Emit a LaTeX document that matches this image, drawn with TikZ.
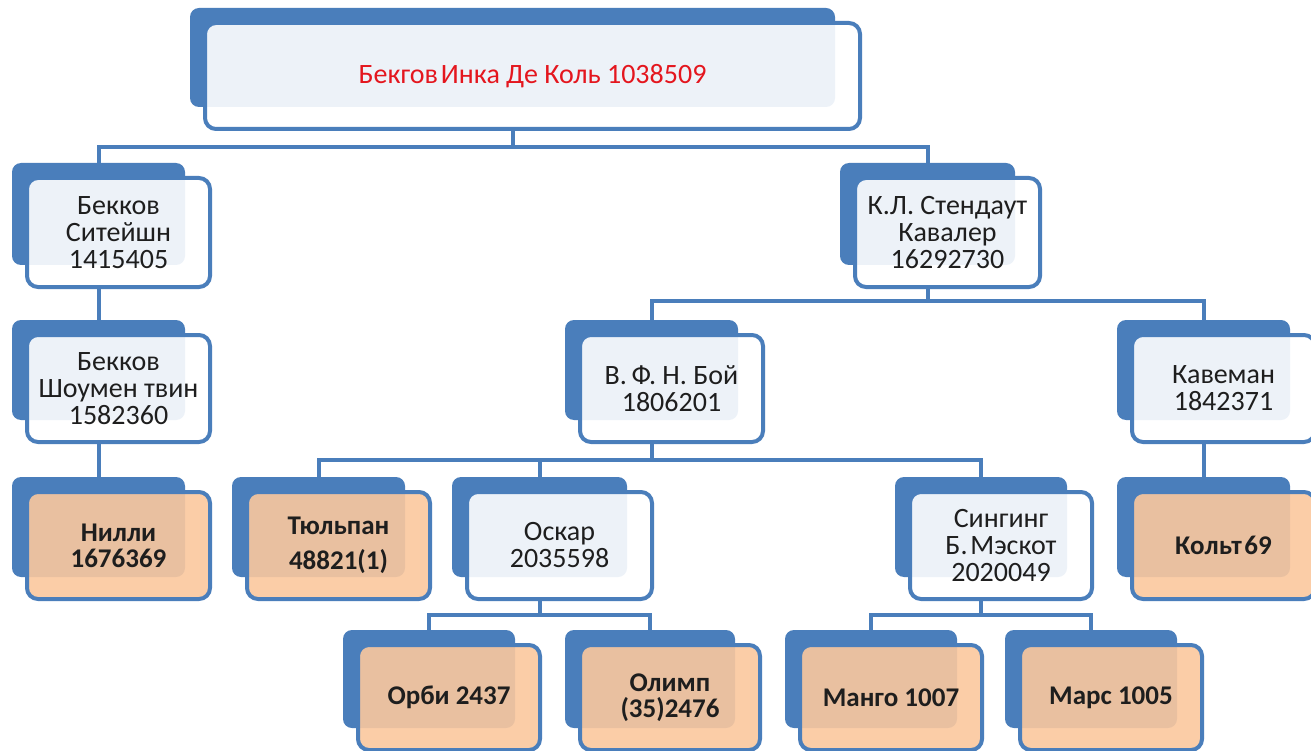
\documentclass[tikz,border=0pt]{standalone}
\usepackage{fontspec}
\setmainfont{Carlito}
\usetikzlibrary{calc}
\definecolor{blu}{RGB}{74,126,187}
\definecolor{peach}{RGB}{251,200,158}
\definecolor{ink}{RGB}{30,30,30}
\definecolor{redtxt}{RGB}{228,22,30}
\pgfdeclarelayer{bg}
\pgfsetlayers{bg,main}

% back plate + front card of one organisation box
% #1 name, #2 x, #3 y, #4 width, #5 height, #6 card style, #7 text
\newcommand\orgnode[7]{%
  \node[backbox, anchor=north west, minimum width=#4, minimum height=#5] (#1-b) at (#2,#3) {};
  \node[#6, anchor=north west, minimum width=#4+10, minimum height=#5+7] (#1) at (#2+15,#3+15) {#7};}

\tikzset{
  backbox/.style={fill=blu, draw=none, rounded corners=9pt, inner sep=0pt, outer sep=0pt},
  card/.style={draw=blu, line width=4pt, rounded corners=11pt, fill opacity=0.9,
               text opacity=1, inner sep=0pt, outer sep=0pt, align=center},
  wcard/.style={card, fill=white, text=ink, font=\fontsize{28}{27}\selectfont},
  ocard/.style={card, fill=peach, text=ink, font=\fontsize{27}{26}\selectfont\bfseries},
  rcard/.style={card, fill=white, text=redtxt, font=\fontsize{28}{28}\selectfont},
  link/.style={draw=blu, line width=4pt}
}

\begin{document}
\begin{tikzpicture}[x=1pt, y=-1pt]
\useasboundingbox (0,0) rectangle (1311,751);

% boxes
\orgnode{top}{190}{8}{645}{99}{rcard}{Бекгов\hspace{0.1em}Инка Де Коль 1038509}

\orgnode{sit}{12}{163}{173}{102}{wcard}{Бекков\\Ситейшн\\1415405}
\orgnode{kav}{840}{163}{175}{102}{wcard}{К.Л. Стендаут\\Кавалер\\16292730}

\orgnode{sho}{12}{320}{173}{100}{wcard}{Бекков\\Шоумен твин\\1582360}
\orgnode{boi}{565}{320}{173}{100}{wcard}{В.\,Ф. Н. Бой\\1806201}
\orgnode{cav}{1117}{320}{173}{100}{wcard}{Кавеман\\1842371}

\orgnode{nil}{12}{477}{173}{100}{ocard}{Нилли\\1676369}
\orgnode{tul}{232}{477}{173}{100}{ocard}{Тюльпан\\[9pt]48821(1)}
\orgnode{osk}{452}{477}{175}{100}{wcard}{Оскар\\2035598}
\orgnode{sin}{895}{477}{172}{100}{wcard}{Сингинг\\Б.\hspace{0.1em}Мэскот\\2020049}
\orgnode{kol}{1117}{477}{173}{100}{ocard}{Кольт\hspace{0.1em}69}

\orgnode{orb}{343}{630}{172}{98}{ocard}{Орби 2437}
\orgnode{oli}{565}{630}{170}{98}{ocard}{Олимп\\(35)2476}
\orgnode{man}{785}{630}{172}{98}{ocard}{Манго 1007}
\orgnode{mar}{1005}{630}{172}{98}{ocard}{Марс 1005}

% bus levels
\coordinate (bus0) at (0,147);
\coordinate (bus1) at (0,301);
\coordinate (bus2) at (0,460);
\coordinate (bus3) at (0,615);

\begin{pgfonlayer}{bg}
\fill[white] (0,0) rectangle (1311,751);
% root to first level
\draw[link] (top-b.south |- top.south) -- (top-b.south |- bus0);
\draw[link] (sit-b.north) |- (bus0 -| kav-b.north) -- (kav-b.north);
% left chain
\draw[link] (sit-b.south |- sit.south) -- (sho-b.north);
\draw[link] (sho-b.south |- sho.south) -- (nil-b.north);
% Кавалер
\draw[link] (kav-b.south |- kav.south) -- (kav-b.south |- bus1);
\draw[link] (boi-b.north) |- (bus1 -| cav-b.north) -- (cav-b.north);
\draw[link] (cav-b.south |- cav.south) -- (kol-b.north);
% Бой
\draw[link] (boi-b.south |- boi.south) -- (boi-b.south |- bus2);
\draw[link] (tul-b.north) |- (bus2 -| sin-b.north) -- (sin-b.north);
\draw[link] (osk-b.north) -- (osk-b.north |- bus2);
% Оскар
\draw[link] (osk-b.south |- osk.south) -- (osk-b.south |- bus3);
\draw[link] (orb-b.north) |- (bus3 -| oli-b.north) -- (oli-b.north);
% Сингинг
\draw[link] (sin-b.south |- sin.south) -- (sin-b.south |- bus3);
\draw[link] (man-b.north) |- (bus3 -| mar-b.north) -- (mar-b.north);
\end{pgfonlayer}
\end{tikzpicture}
\end{document}
